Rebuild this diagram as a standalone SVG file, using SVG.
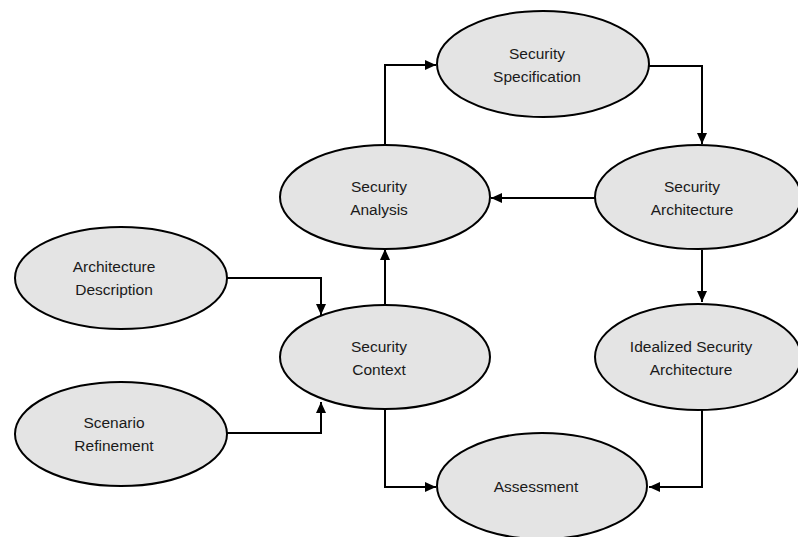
<svg xmlns="http://www.w3.org/2000/svg" width="798" height="537" viewBox="0 0 798 537">
<defs>
<style>
.node ellipse{fill:#e4e4e4;stroke:#000;stroke-width:2}
.node text{font-family:"Liberation Sans",Arial,sans-serif;font-size:15.5px;fill:#1a1a1a;text-anchor:middle}
.edges path{fill:none;stroke:#000;stroke-width:2}
</style>
<marker id="arr" markerUnits="userSpaceOnUse" markerWidth="12" markerHeight="10" refX="11" refY="5" orient="auto">
<path d="M0,0 L11,5 L0,10 Z" fill="#000"/>
</marker>
</defs>
<rect width="798" height="537" fill="#fff"/>
<g class="edges">
<path d="M385,145 V65 H436" marker-end="url(#arr)"/>
<path d="M649,66 H702 V144" marker-end="url(#arr)"/>
<path d="M595,198 H491" marker-end="url(#arr)"/>
<path d="M702,250 V302" marker-end="url(#arr)"/>
<path d="M227,278 H321 V315" marker-end="url(#arr)"/>
<path d="M227,433 H321 V402" marker-end="url(#arr)"/>
<path d="M385,305 V249" marker-end="url(#arr)"/>
<path d="M385,410 V487 H436" marker-end="url(#arr)"/>
<path d="M702,410 V487 H649" marker-end="url(#arr)"/>
</g>
<g id="spec" class="node"><ellipse cx="543" cy="64" rx="106" ry="53"/><text x="537" y="59">Security</text><text x="537" y="82">Specification</text></g>
<g id="analysis" class="node"><ellipse cx="385" cy="197" rx="105" ry="52"/><text x="379" y="192">Security</text><text x="379" y="215">Analysis</text></g>
<g id="architecture" class="node"><ellipse cx="698" cy="197" rx="103" ry="52"/><text x="692" y="192">Security</text><text x="692" y="215">Architecture</text></g>
<g id="archdesc" class="node"><ellipse cx="121" cy="278" rx="106" ry="51"/><text x="114" y="272">Architecture</text><text x="114" y="295">Description</text></g>
<g id="context" class="node"><ellipse cx="385" cy="357" rx="105" ry="52"/><text x="379" y="352">Security</text><text x="379" y="375">Context</text></g>
<g id="idealized" class="node"><ellipse cx="698" cy="357" rx="103" ry="53"/><text x="691" y="352">Idealized Security</text><text x="691" y="375">Architecture</text></g>
<g id="scenario" class="node"><ellipse cx="121" cy="434" rx="106" ry="52"/><text x="114" y="428">Scenario</text><text x="114" y="451">Refinement</text></g>
<g id="assessment" class="node"><ellipse cx="542" cy="486" rx="105" ry="53"/><text x="536" y="492">Assessment</text></g>
</svg>
